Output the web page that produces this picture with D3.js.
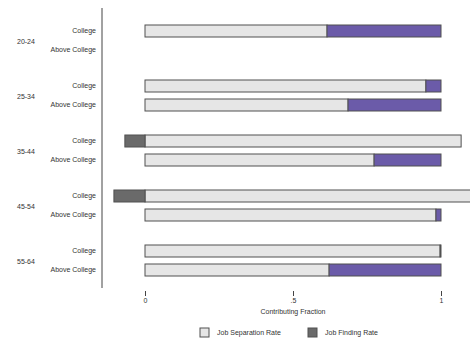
<!DOCTYPE html>
<html><head><meta charset="utf-8">
<script src="https://cdn.jsdelivr.net/npm/d3@7"></script>
<style>body{margin:0;background:#fff}svg{display:block}text{font-family:"Liberation Sans",Arial,sans-serif;fill:#333}</style>
</head><body><svg id="c" width="470" height="345"></svg>
<script>
const categories = ["20-24","25-34","35-44","45-54","55-64"];
const subgroups = ["College","Above College"];
const sepCollege = [0.615, 0.949, 1.068, 1.105, 0.997];
const findCollege = [0.385, 0.051, -0.068, -0.105, 0.003];
const sepAbove = [null, 0.686, 0.774, 0.983, 0.622];
const findAbove = [null, 0.314, 0.226, 0.017, 0.378];
const xTicks = [0, 0.5, 1];
const xTickLabels = ["0", ".5", "1"];
const seriesNames = ["Job Separation Rate","Job Finding Rate"];

const svg = d3.select("#c");
const x = d3.scaleLinear().domain([0,1]).range([145,441]);
const yG = d3.scaleBand().domain(categories).range([12.5,287.5]);
const yS = d3.scalePoint().domain(subgroups).range([18.5,37.5]);
const bh = 12;
const colSep = "#e6e6e6", colFindPos = "#6b5ba9", colFindNeg = "#6a6a6a", stroke="#505050";

const rows = [];
categories.forEach((c,i)=>{
  rows.push({cat:c, sub:"College", sep:sepCollege[i], find:findCollege[i]});
  rows.push({cat:c, sub:"Above College", sep:sepAbove[i], find:findAbove[i]});
});

const g = svg.append("g");
rows.filter(r=>r.sep!==null).forEach(r=>{
  const yc = yG(r.cat)+yS(r.sub);
  g.append("rect").attr("x",x(0)).attr("y",yc-bh/2).attr("width",x(r.sep)-x(0)).attr("height",bh)
    .attr("fill",colSep).attr("stroke",stroke).attr("stroke-width",1);
  let x0, x1, col;
  if(r.find>=0){ x0=x(r.sep); x1=x(r.sep+r.find); col=colFindPos; }
  else { x0=x(r.find); x1=x(0); col=colFindNeg; }
  g.append("rect").attr("x",x0).attr("y",yc-bh/2).attr("width",Math.max(x1-x0,0.8)).attr("height",bh)
    .attr("fill",col).attr("stroke",stroke).attr("stroke-width",1);
});

rows.forEach(r=>{
  svg.append("text").attr("x",96).attr("y",yG(r.cat)+yS(r.sub)).attr("dy","0.35em")
    .attr("text-anchor","end").attr("font-size",7).text(r.sub);
});
categories.forEach(c=>{
  svg.append("text").attr("x",17).attr("y",yG(c)+yG.bandwidth()/2+1.5).attr("dy","0.35em")
    .attr("font-size",7).text(c);
});

svg.append("line").attr("x1",102).attr("x2",102).attr("y1",8).attr("y2",288).attr("stroke","#444").attr("stroke-width",1);

const ax = svg.append("g").attr("transform","translate(0,291)")
  .call(d3.axisBottom(x).tickValues(xTicks).tickFormat((d,i)=>xTickLabels[i]).tickSize(5).tickPadding(2));
ax.select(".domain").remove();
ax.selectAll(".tick line").attr("stroke","#444");
ax.selectAll(".tick text").attr("font-size",7).style("font-family",'"Liberation Sans",Arial,sans-serif').attr("fill","#333");
svg.append("text").attr("x",x(0.5)).attr("y",314).attr("text-anchor","middle").attr("font-size",7).text("Contributing Fraction");

const leg = [{name:seriesNames[0],col:colSep,x:200},{name:seriesNames[1],col:colFindNeg,x:308}];
leg.forEach(l=>{
  svg.append("rect").attr("x",l.x).attr("y",328).attr("width",9).attr("height",9).attr("fill",l.col).attr("stroke",stroke);
  svg.append("text").attr("x",l.x+17).attr("y",332.5).attr("dy","0.35em").attr("font-size",7).text(l.name);
});
</script></body></html>
